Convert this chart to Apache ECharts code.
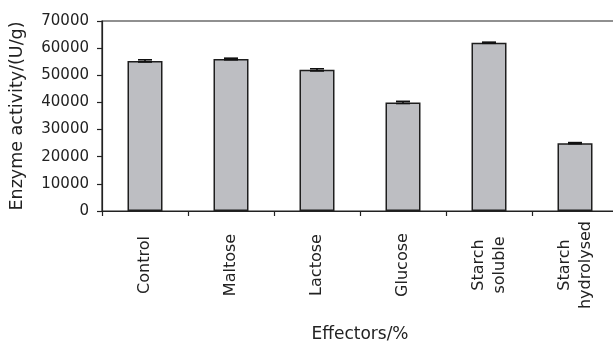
<!DOCTYPE html>
<html>
<head>
<meta charset="utf-8">
<script src="https://cdn.jsdelivr.net/npm/echarts@6/dist/echarts.min.js"></script>
<style>
  html, body { margin: 0; padding: 0; background: #fff; }
  #chart { width: 613px; height: 341px; }
</style>
</head>
<body>
<div id="chart"></div>
<script>
// Enzyme activity under different carbon-source effectors
const categories = ['Control', 'Maltose', 'Lactose', 'Glucose', 'Starch\nsoluble', 'Starch\nhydrolysed'];
const activity = [55300, 56000, 52000, 40000, 62000, 25000];
const errors = [400, 300, 400, 400, 200, 200];
const yTicks = { min: 0, max: 70000, interval: 10000 };

const axisColor = '#222';
const font = 'DejaVu Sans';

const chart = echarts.init(document.getElementById('chart'));

chart.setOption({
  animation: false,
  grid: {
    left: 102, top: 21, bottom: 130, width: 516,
    outerBoundsMode: 'none', containLabel: false,
    show: true, borderColor: axisColor, borderWidth: 1.2, backgroundColor: 'transparent'
  },
  xAxis: {
    type: 'category',
    data: categories,
    name: 'Effectors/%',
    nameLocation: 'middle',
    nameGap: 115,
    nameTextStyle: { fontFamily: font, fontSize: 17, color: '#222' },
    axisLine: { lineStyle: { color: axisColor, width: 1.2 } },
    axisTick: { show: true, length: 5, lineStyle: { color: axisColor, width: 1.2 } },
    axisLabel: {
      rotate: 90, margin: 54, align: 'center', verticalAlign: 'middle',
      fontFamily: font, fontSize: 16, color: '#222', lineHeight: 21,
      interval: 0
    }
  },
  yAxis: {
    type: 'value',
    min: yTicks.min, max: yTicks.max, interval: yTicks.interval,
    name: 'Enzyme activity/(U/g)',
    nameLocation: 'middle',
    nameGap: 76,
    nameTextStyle: { fontFamily: font, fontSize: 17.5, color: '#222' },
    axisLine: { show: true, lineStyle: { color: axisColor, width: 1.2 } },
    axisTick: { show: true, length: 5, lineStyle: { color: axisColor, width: 1.2 } },
    axisLabel: { fontFamily: font, fontSize: 15, color: '#222', margin: 13, formatter: v => String(v) },
    splitLine: { show: false }
  },
  series: [
    {
      type: 'bar',
      data: activity,
      barWidth: 35,
      itemStyle: { color: '#bdbec2', borderColor: '#1e1e1e', borderWidth: 1.5 }
    },
    {
      // error bars: +/- deviation around each bar top
      type: 'custom',
      data: activity.map((v, i) => [i, v - errors[i], v + errors[i]]),
      renderItem: function (params, api) {
        const x = api.value(0);
        const lo = api.coord([x, api.value(1)]);
        const hi = api.coord([x, api.value(2)]);
        const half = 7;
        const style = { stroke: '#111', lineWidth: 1.6 };
        return {
          type: 'group',
          children: [
            { type: 'line', shape: { x1: lo[0], y1: lo[1], x2: hi[0], y2: hi[1] }, style: style },
            { type: 'line', shape: { x1: hi[0] - half, y1: hi[1], x2: hi[0] + half, y2: hi[1] }, style: style },
            { type: 'line', shape: { x1: lo[0] - half, y1: lo[1], x2: lo[0] + half, y2: lo[1] }, style: style }
          ]
        };
      },
      z: 5
    }
  ]
});
</script>
</body>
</html>
